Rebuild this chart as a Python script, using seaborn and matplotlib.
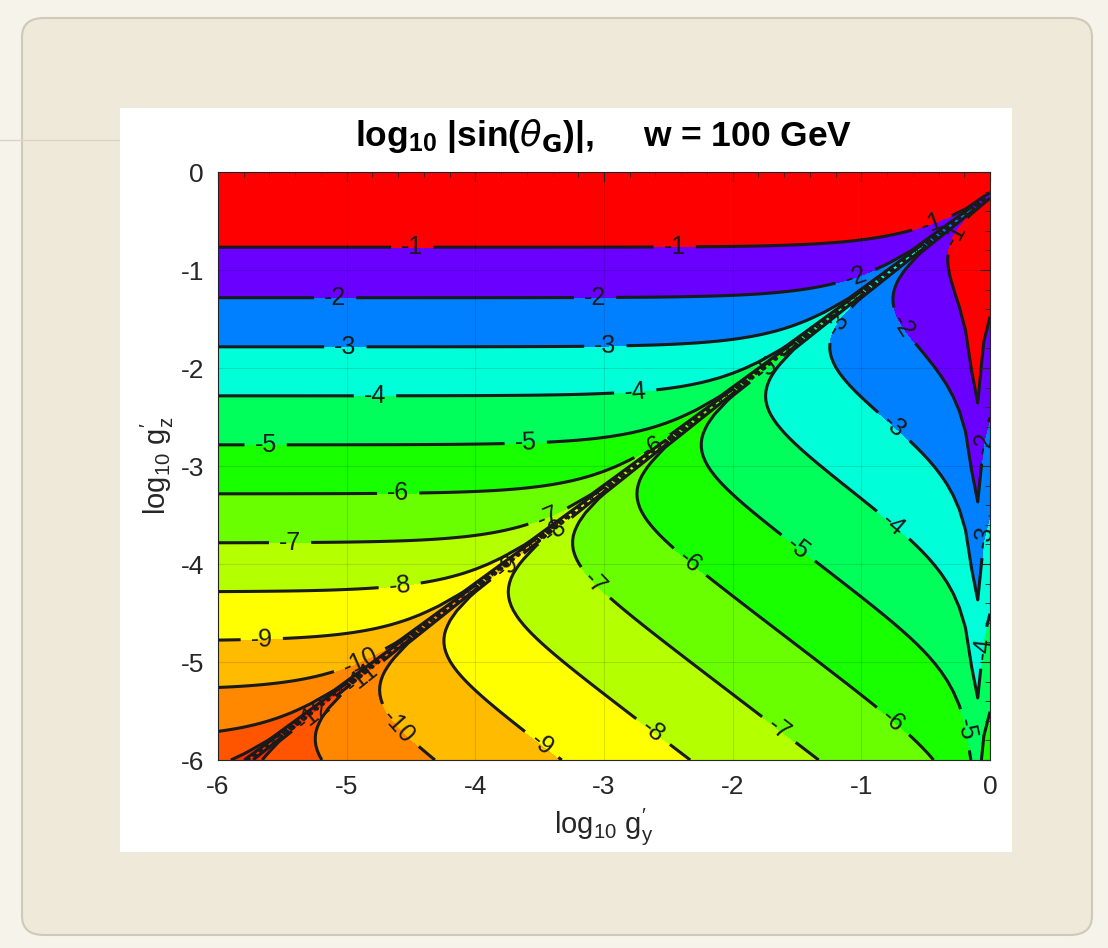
import numpy as np
import matplotlib
matplotlib.use("Agg")
import matplotlib.pyplot as plt
import seaborn as sns
from matplotlib.patches import FancyBboxPatch, Rectangle
from matplotlib.lines import Line2D

# ---------------- data / model parameters ----------------
W_GEV = 100          # vev w shown in title
G_RES = 0.775        # g'_y where the G and Z masses cross (units of m_Z)
K_Z = 2.2            # g'_z^2 shift of the Z mass^2 (units of m_Z^2)
A_ZZ = 3.7           # g'_z^2 coefficient of the mass mixing (units of m_Z^2)
B_YZ = 2.137         # g'_y g'_z coefficient of the mass mixing (units of m_Z^2)
N_GRID = 127         # grid points per axis of the scan

fill_levels = [-40, -12, -11, -10, -9, -8, -7, -6, -5, -4, -3, -2, -1, 0.5]
band_colors = ["#ff2a00", "#ff5500", "#ff8800", "#ffbb00", "#ffff00", "#b4ff00",
               "#6aff00", "#18ff00", "#00ff5a", "#00ffd8", "#0080ff", "#6a00ff",
               "#ff0000"]
line_levels = list(range(-16, 0))
tick_values = [-6, -5, -4, -3, -2, -1, 0]
tick_labels = ["-6", "-5", "-4", "-3", "-2", "-1", "0"]

# approximate places of the contour labels (log10 g'_y, log10 g'_z)
label_x = [-4.49, -2.45, -0.45, -0.17, -5.09, -3.07, -1.05, -0.57, -0.06,
           -5.01, -2.99, -0.68, -0.06, -4.78, -2.76, -1.20, -0.70, -0.08,
           -5.63, -3.61, -1.41, -0.19, -4.60, -2.62, -2.27, -0.70,
           -5.44, -3.44, -2.99, -1.67, -4.59, -3.37, -2.56,
           -5.66, -3.75, -3.46, -4.90, -4.51, -4.87, -5.26, -1.73]
label_y = [-0.80, -0.80, -0.52, -0.72, -1.23, -1.23, -1.05, -1.48, -2.76,
           -1.73, -1.71, -2.50, -3.72, -2.22, -2.19, -1.53, -3.52, -4.85,
           -2.73, -2.70, -3.70, -5.69, -3.21, -2.81, -3.88, -5.52,
           -3.72, -3.50, -4.09, -5.74, -4.19, -3.68, -5.61,
           -4.76, -4.03, -5.80, -4.98, -5.56, -5.18, -5.52, -2.02]

# ---------------- field ----------------
xs = np.linspace(-6, 0, N_GRID)
ys = np.linspace(-6, 0, N_GRID)
X, Y = np.meshgrid(xs, ys)
gy = 10.0 ** X
gz = 10.0 ** Y
m11 = 1.0 + K_Z * gz ** 2
m22 = (gy / G_RES) ** 2
m12 = gz * (A_ZZ * gz - B_YZ * gy)
with np.errstate(divide="ignore", invalid="ignore"):
    theta = 0.5 * np.arctan(2.0 * m12 / (m11 - m22))
    Z = np.log10(np.abs(np.sin(theta)))
Z = np.nan_to_num(Z, nan=-40, neginf=-40)
Z = np.clip(Z, -39, 0.4)

# ---------------- style ----------------
sns.set_theme(style="white")
plt.rcParams["font.family"] = ["Liberation Sans", "DejaVu Sans"]
plt.rcParams["axes.unicode_minus"] = False
plt.rcParams["mathtext.default"] = "regular"

fig = plt.figure(figsize=(11.08, 9.48), dpi=100)
fig.patch.set_facecolor("#f6f3ea")
fig.patches.append(FancyBboxPatch((22 / 1108, 1 - 935 / 948), 1070 / 1108, 917 / 948,
                                  boxstyle="round,pad=0,rounding_size=0.02",
                                  transform=fig.transFigure, facecolor="#efe9d9",
                                  edgecolor="#cfc9b9", linewidth=1.5, zorder=-10))
fig.lines.append(Line2D([0, 120 / 1108], [1 - 140 / 948, 1 - 140 / 948],
                        transform=fig.transFigure, color="#d9d4c6", linewidth=1, zorder=-9))
fig.patches.append(Rectangle((120 / 1108, 1 - 852 / 948), 892 / 1108, 744 / 948,
                             transform=fig.transFigure, facecolor="white",
                             edgecolor="none", zorder=-8))

ax = fig.add_axes([218 / 1108, 1 - 760 / 948, 772 / 1108, 588 / 948])
ax.set_zorder(5)
ax.contourf(X, Y, Z, levels=fill_levels, colors=band_colors)
cs = ax.contour(X, Y, Z, levels=line_levels, colors="k", linewidths=2.2,
                linestyles="solid")
ax.clabel(cs, fmt="%d", fontsize=18, inline=True, inline_spacing=10,
          manual=list(zip(label_x, label_y)))

ax.set_xlim(-6, 0)
ax.set_ylim(-6, 0)
ax.set_xticks(tick_values)
ax.set_xticklabels(tick_labels)
ax.set_yticks(tick_values)
ax.set_yticklabels(tick_labels)
ax.set_xticks(np.arange(-6, 0.01, 0.2), minor=True)
ax.set_yticks(np.arange(-6, 0.01, 0.2), minor=True)
ax.tick_params(which="both", direction="in", top=True, right=True,
               colors="#262626", labelsize=19, labelcolor="#262626")
ax.tick_params(which="major", length=7, width=0.8)
ax.tick_params(axis="x", which="major", pad=11)
ax.tick_params(axis="y", which="major", pad=10)
ax.tick_params(which="minor", length=3.5, width=0.6)
ax.grid(True, which="major", color="#000000", alpha=0.12, linewidth=0.8)
ax.set_axisbelow(False)
for sp in ax.spines.values():
    sp.set_color("#262626")
    sp.set_linewidth(0.8)

ax.set_xlabel(r"log$_{10}$ g$^{\prime}_{y}$", fontsize=21, color="#262626", labelpad=5)
ax.set_ylabel(r"log$_{10}$ g$^{\prime}_{z}$", fontsize=21, color="#262626", labelpad=3)
ax.set_title(r"log$_{10}$ |sin($\it{\theta}_{\mathbf{G}}$)|,     w = " + f"{W_GEV} GeV",
             fontsize=25.5, fontweight="bold", color="black", pad=19)

fig.savefig("out.png", dpi=100, facecolor=fig.get_facecolor())
